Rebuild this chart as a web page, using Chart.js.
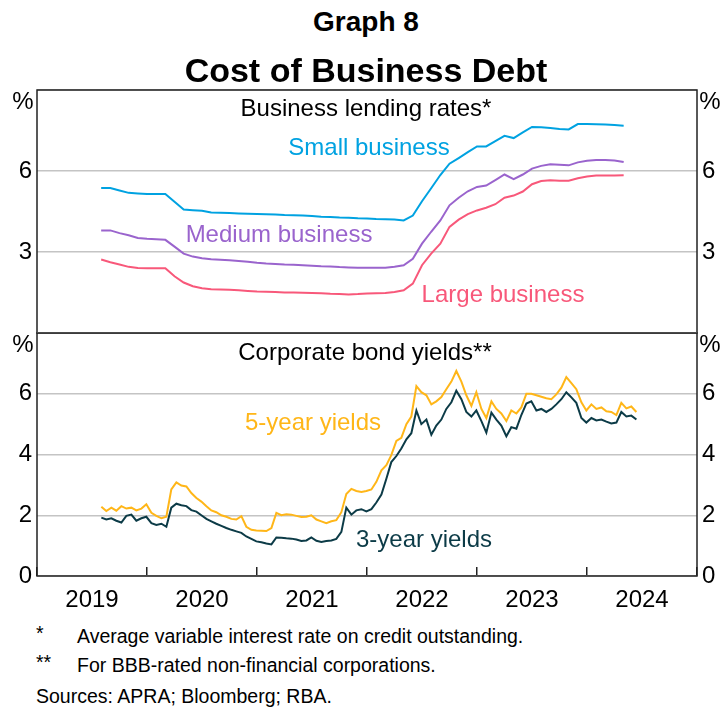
<!DOCTYPE html>
<html>
<head>
<meta charset="utf-8">
<script src="https://cdn.jsdelivr.net/npm/chart.js@4.4.1/dist/chart.umd.min.js"></script>
<style>
  body { margin: 0; width: 723px; height: 708px; position: relative; background: #fff; overflow: hidden;
         font-family: 'Liberation Sans', Arial, sans-serif; color: #000; }
  .t { position: absolute; white-space: nowrap; line-height: 1; z-index: 5; }
  .c { transform: translate(-50%, -50%); }
  .l { transform: translateY(-50%); }
  .box { position: absolute; left: 0; width: 723px; }
</style>
</head>
<body>

<div class="t c" style="left:366px;top:22px;font-size:28px;font-weight:bold;">Graph 8</div>
<div class="t c" style="left:366px;top:70px;font-size:34px;font-weight:bold;">Cost of Business Debt</div>

<div class="box" style="top:74px;height:275px;"><canvas id="lendingChart" width="723" height="275"></canvas></div>
<div class="box" style="top:317px;height:299px;"><canvas id="bondChart" width="723" height="299"></canvas></div>

<!-- units -->
<div class="t c" style="left:23px;top:101px;font-size:24px;">%</div>
<div class="t c" style="left:710px;top:101px;font-size:24px;">%</div>
<div class="t c" style="left:23px;top:344px;font-size:24px;">%</div>
<div class="t c" style="left:710px;top:344px;font-size:24px;">%</div>

<!-- panel titles and series labels -->
<div class="t c" style="left:366px;top:108px;font-size:24px;">Business lending rates*</div>
<div class="t c" style="left:369px;top:147px;font-size:24px;color:#00a2e1;">Small business</div>
<div class="t c" style="left:279px;top:234px;font-size:24px;color:#9a64cd;">Medium business</div>
<div class="t c" style="left:503px;top:294px;font-size:24px;color:#f8587a;">Large business</div>

<div class="t c" style="left:365px;top:352px;font-size:24px;">Corporate bond yields**</div>
<div class="t c" style="left:313px;top:422px;font-size:24px;color:#ffb618;">5-year yields</div>
<div class="t c" style="left:424px;top:539px;font-size:24px;color:#0c3b47;">3-year yields</div>

<!-- footnotes -->
<div class="t l" style="left:36px;top:634px;font-size:19.5px;">*</div>
<div class="t l" style="left:77px;top:637px;font-size:19.5px;">Average variable interest rate on credit outstanding.</div>
<div class="t l" style="left:36px;top:663px;font-size:19.5px;">**</div>
<div class="t l" style="left:77px;top:666px;font-size:19.5px;">For BBB-rated non-financial corporations.</div>
<div class="t l" style="left:36px;top:697px;font-size:19.5px;">Sources: APRA; Bloomberg; RBA.</div>

<script>
// Business lending rates, monthly (end of month)
const lendingMonths = [
  '2019-07','2019-08','2019-09','2019-10','2019-11','2019-12',
  '2020-01','2020-02','2020-03','2020-04','2020-05','2020-06','2020-07','2020-08','2020-09','2020-10','2020-11','2020-12',
  '2021-01','2021-02','2021-03','2021-04','2021-05','2021-06','2021-07','2021-08','2021-09','2021-10','2021-11','2021-12',
  '2022-01','2022-02','2022-03','2022-04','2022-05','2022-06','2022-07','2022-08','2022-09','2022-10','2022-11','2022-12',
  '2023-01','2023-02','2023-03','2023-04','2023-05','2023-06','2023-07','2023-08','2023-09','2023-10','2023-11','2023-12',
  '2024-01','2024-02','2024-03','2024-04'
];
const smallBusiness = [
  5.37,5.37,5.28,5.19,5.17,5.15,
  5.15,5.15,4.86,4.57,4.55,4.53,4.46,4.45,4.44,4.43,4.42,4.41,
  4.40,4.39,4.37,4.36,4.35,4.33,4.31,4.30,4.28,4.27,4.25,4.24,
  4.22,4.21,4.20,4.17,4.35,4.88,5.36,5.85,6.27,6.48,6.70,6.91,
  6.91,7.11,7.30,7.22,7.43,7.63,7.62,7.59,7.56,7.54,7.74,7.74,
  7.73,7.72,7.70,7.68
];
const mediumBusiness = [
  3.80,3.80,3.70,3.62,3.52,3.49,
  3.47,3.45,3.20,2.94,2.83,2.77,2.73,2.71,2.69,2.67,2.64,2.60,
  2.57,2.56,2.54,2.53,2.51,2.49,2.47,2.46,2.44,2.43,2.42,2.42,
  2.42,2.42,2.45,2.51,2.75,3.31,3.75,4.17,4.73,5.01,5.25,5.41,
  5.46,5.66,5.87,5.70,5.87,6.09,6.19,6.25,6.23,6.21,6.32,6.38,
  6.41,6.41,6.39,6.33
];
const largeBusiness = [
  2.72,2.62,2.54,2.45,2.41,2.40,
  2.40,2.40,2.10,1.87,1.73,1.66,1.62,1.61,1.60,1.58,1.56,1.54,
  1.53,1.52,1.50,1.50,1.49,1.48,1.47,1.45,1.44,1.43,1.44,1.46,
  1.47,1.48,1.52,1.58,1.83,2.51,2.94,3.31,3.93,4.20,4.40,4.54,
  4.64,4.77,5.01,5.09,5.24,5.51,5.63,5.66,5.64,5.64,5.73,5.80,
  5.83,5.83,5.83,5.84
];

// Corporate bond yields (BBB), sampled roughly every two and a half weeks
const bondDates = [
  2019.585,2019.630,2019.676,2019.721,2019.767,2019.812,2019.858,2019.903,2019.949,2019.994,
  2020.040,2020.085,2020.131,2020.176,2020.221,2020.267,2020.312,2020.358,2020.403,2020.449,
  2020.494,2020.540,2020.585,2020.630,2020.676,2020.721,2020.767,2020.812,2020.858,2020.903,
  2020.949,2020.994,2021.040,2021.085,2021.131,2021.176,2021.221,2021.267,2021.312,2021.358,
  2021.403,2021.449,2021.494,2021.540,2021.585,2021.630,2021.676,2021.721,2021.767,2021.812,
  2021.858,2021.903,2021.949,2021.994,2022.040,2022.085,2022.131,2022.176,2022.221,2022.267,
  2022.312,2022.358,2022.403,2022.449,2022.494,2022.540,2022.585,2022.630,2022.676,2022.721,
  2022.767,2022.812,2022.858,2022.903,2022.949,2022.994,2023.040,2023.085,2023.131,2023.176,
  2023.221,2023.267,2023.312,2023.358,2023.403,2023.449,2023.494,2023.540,2023.585,2023.630,
  2023.676,2023.721,2023.767,2023.812,2023.858,2023.903,2023.949,2023.994,2024.040,2024.085,
  2024.131,2024.176,2024.221,2024.267,2024.312,2024.358,2024.403,2024.449
];
const fiveYearYields = [
  2.28,2.14,2.25,2.15,2.30,2.22,2.25,2.16,2.22,2.36,
  2.08,1.98,1.90,1.95,2.85,3.08,2.98,2.95,2.73,2.57,
  2.45,2.30,2.16,2.10,2.00,1.95,1.88,1.86,1.97,1.62,
  1.52,1.50,1.49,1.48,1.58,2.08,2.00,2.03,2.02,1.98,
  1.94,1.95,2.00,1.86,1.80,1.74,1.80,1.84,2.10,2.70,
  2.87,2.80,2.77,2.80,2.85,3.10,3.48,3.65,3.98,4.45,
  4.55,5.00,5.25,6.25,6.05,5.95,5.65,5.75,5.89,6.15,
  6.40,6.75,6.40,5.95,5.60,6.05,5.50,5.20,5.75,5.50,
  5.35,5.10,5.45,5.35,5.55,6.00,6.00,5.95,5.90,5.85,
  5.82,5.98,6.20,6.55,6.35,6.15,5.72,5.45,5.65,5.50,
  5.55,5.42,5.40,5.30,5.70,5.52,5.58,5.40
];
const threeYearYields = [
  1.92,1.86,1.90,1.82,1.76,1.98,2.02,1.82,1.90,1.95,
  1.74,1.68,1.72,1.62,2.25,2.38,2.33,2.30,2.17,2.12,
  2.00,1.88,1.80,1.72,1.65,1.58,1.52,1.47,1.42,1.30,
  1.22,1.14,1.11,1.07,1.04,1.27,1.26,1.24,1.23,1.20,
  1.15,1.17,1.27,1.16,1.12,1.15,1.17,1.22,1.45,2.25,
  2.02,2.16,2.20,2.13,2.20,2.42,2.68,3.20,3.75,3.95,
  4.20,4.50,4.70,5.45,5.00,5.15,4.65,4.95,5.15,5.50,
  5.72,6.10,5.82,5.40,5.25,5.45,5.10,4.72,5.38,5.15,
  4.95,4.60,4.90,4.85,5.30,5.68,5.75,5.45,5.50,5.40,
  5.50,5.65,5.82,6.05,5.88,5.70,5.20,5.05,5.20,5.12,
  5.15,5.08,5.02,5.05,5.40,5.25,5.28,5.15
];

const colors = {
  small: '#00a2e1',
  medium: '#9a64cd',
  large: '#f8587a',
  fiveYear: '#ffb618',
  threeYear: '#0c3b47',
  grid: '#c4c4c4',
  frame: '#222222',
  text: '#000000'
};
const tickFont = { family: "'Liberation Sans', Arial, sans-serif", size: 24 };

// month string -> decimal year at end of month
function monthToYear(m) {
  const [y, mo] = m.split('-').map(Number);
  return y + mo / 12;
}
const lendingX = lendingMonths.map(monthToYear);

function series(xs, ys) {
  return xs.map((x, i) => ({ x: x, y: ys[i] }));
}

function lineSet(label, data, color, width) {
  return {
    label: label,
    data: data,
    borderColor: color,
    backgroundColor: color,
    borderWidth: width,
    pointRadius: 0,
    tension: 0,
    fill: false
  };
}

// draws the black box around each panel
const framePlugin = {
  id: 'frame',
  afterDraw(chart) {
    const a = chart.chartArea;
    const ctx = chart.ctx;
    ctx.save();
    ctx.strokeStyle = colors.frame;
    ctx.lineWidth = 1.5;
    ctx.strokeRect(a.left, a.top, a.right - a.left, a.bottom - a.top);
    ctx.restore();
  }
};

// y axis with a fixed width and no extra label padding, so both panels line up
function yAxis(position, max, step, width, hideZero) {
  return {
    position: position,
    min: 0,
    max: max,
    ticks: {
      stepSize: step,
      padding: 5,
      color: colors.text,
      font: tickFont,
      callback: v => (v === max || (hideZero && v === 0) ? '' : String(v))
    },
    grid: { display: position === 'left', color: colors.grid, lineWidth: 1.5, drawTicks: false },
    border: { display: false },
    afterFit: s => { s.width = width; s.paddingTop = 0; s.paddingBottom = 0; }
  };
}

// Top panel: business lending rates
const lendingChart = new Chart(document.getElementById('lendingChart').getContext('2d'), {
  type: 'line',
  data: {
    datasets: [
      lineSet('Small business', series(lendingX, smallBusiness), colors.small, 2),
      lineSet('Medium business', series(lendingX, mediumBusiness), colors.medium, 2),
      lineSet('Large business', series(lendingX, largeBusiness), colors.large, 2)
    ]
  },
  options: {
    responsive: false,
    animation: false,
    layout: { padding: { top: 16, bottom: 16, left: 0, right: 0 } },
    plugins: { legend: { display: false }, tooltip: { enabled: false } },
    scales: {
      x: { type: 'linear', min: 2019, max: 2025, display: false },
      y: yAxis('left', 9, 3, 37, true),
      y2: yAxis('right', 9, 3, 26, true)
    }
  },
  plugins: [framePlugin]
});

// Bottom panel: corporate bond yields
const bondChart = new Chart(document.getElementById('bondChart').getContext('2d'), {
  type: 'line',
  data: {
    datasets: [
      lineSet('5-year yields', series(bondDates, fiveYearYields), colors.fiveYear, 2),
      lineSet('3-year yields', series(bondDates, threeYearYields), colors.threeYear, 2)
    ]
  },
  options: {
    responsive: false,
    animation: false,
    layout: { padding: { top: 16, bottom: 0, left: 0, right: 0 } },
    plugins: { legend: { display: false }, tooltip: { enabled: false } },
    scales: {
      x: {
        type: 'linear',
        min: 2019,
        max: 2025,
        ticks: {
          stepSize: 1,
          autoSkip: false,
          maxRotation: 0,
          labelOffset: 55,
          padding: 19,
          color: colors.text,
          font: tickFont,
          callback: v => (v === 2025 ? '' : String(v))
        },
        grid: { display: true, drawOnChartArea: false, drawTicks: true, tickLength: -9, color: colors.frame, lineWidth: 1.5 },
        border: { display: false },
        afterFit: s => { s.height = 40; s.paddingLeft = 0; s.paddingRight = 0; }
      },
      y: yAxis('left', 8, 2, 37, false),
      y2: yAxis('right', 8, 2, 26, false)
    }
  },
  plugins: [framePlugin]
});
</script>
</body>
</html>
